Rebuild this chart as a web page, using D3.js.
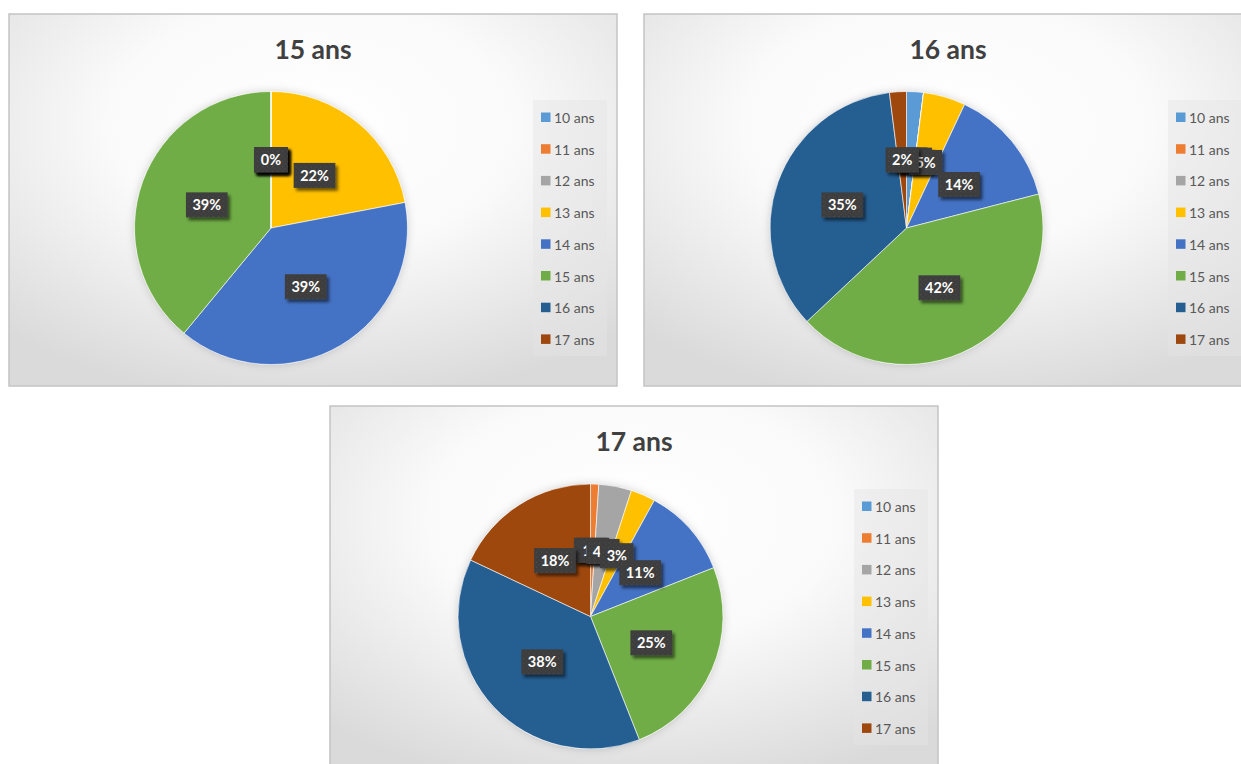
<!DOCTYPE html>
<html><head><meta charset="utf-8">
<script src="https://cdn.jsdelivr.net/npm/d3@7/dist/d3.min.js"></script>
<style>html,body{margin:0;padding:0;background:#fff;overflow:hidden}</style>
</head><body>
<svg id="c" width="1241" height="764"></svg>
<script>
const categories = ["10 ans","11 ans","12 ans","13 ans","14 ans","15 ans","16 ans","17 ans"];
const titles = ["15 ans","16 ans","17 ans"];
const values15 = [0,0,0,22,39,39,0,0];
const values16 = [2,0,0,5,14,42,35,2];
const values17 = [0,1,4,3,11,25,38,18];
const colors = ["#5B9BD5","#ED7D31","#A5A5A5","#FFC000","#4472C4","#70AD47","#255E91","#9E480E"];

const svg = d3.select("#c");
const defs = svg.append("defs");
const rg = defs.append("radialGradient").attr("id","bg").attr("cx","50%").attr("cy","30%").attr("r","75%");
rg.append("stop").attr("offset","0%").attr("stop-color","#ffffff");
rg.append("stop").attr("offset","45%").attr("stop-color","#fafafa");
rg.append("stop").attr("offset","100%").attr("stop-color","#dadada");
const pat = defs.append("pattern").attr("id","tex").attr("width",5).attr("height",5).attr("patternUnits","userSpaceOnUse");
pat.append("rect").attr("width",5).attr("height",5).attr("fill","#3d3d3d");
pat.append("rect").attr("x",1).attr("y",1).attr("width",1.2).attr("height",1.2).attr("fill","#4e4e4e");
pat.append("rect").attr("x",3.5).attr("y",3.5).attr("width",1).attr("height",1).attr("fill","#474747");
const f = defs.append("filter").attr("id","sh").attr("x","-30%").attr("y","-30%").attr("width","170%").attr("height","180%");
f.append("feDropShadow").attr("dx",2.5).attr("dy",3).attr("stdDeviation",1.8).attr("flood-color","#000").attr("flood-opacity",0.55);
const f2 = defs.append("filter").attr("id","psh").attr("x","-20%").attr("y","-20%").attr("width","140%").attr("height","140%");
f2.append("feDropShadow").attr("dx",0).attr("dy",0).attr("stdDeviation",4).attr("flood-color","#000").attr("flood-opacity",0.18);

const panels = [
  {x:9, y:14, values:values15, cx:262, cy:214, r:136.5, ly:104},
  {x:644, y:14, values:values16, cx:262.5, cy:214, r:136.5, ly:104},
  {x:330, y:406, values:values17, cx:260.5, cy:210.5, r:132.5, ly:101}
];
const W = 608, H = 372;
const pie = d3.pie().sort(null).value(d => d);

panels.forEach((p, i) => {
  const g = svg.append("g").attr("transform", `translate(${p.x},${p.y})`);
  g.append("rect").attr("x",0).attr("y",0).attr("width",W).attr("height",H)
    .attr("fill","url(#bg)").attr("stroke","#c4c4c4").attr("stroke-width",1.5);
  g.append("text").attr("x",W/2).attr("y",45).attr("text-anchor","middle")
    .attr("font-family","Lato, 'Open Sans', sans-serif").attr("font-weight","bold")
    .attr("font-size",26.5).attr("fill","#404040").text(titles[i]);

  const total = d3.sum(p.values);
  const arcs = pie(p.values);
  const arc = d3.arc().innerRadius(0).outerRadius(p.r);
  const pg = g.append("g").attr("transform", `translate(${p.cx},${p.cy})`);
  pg.append("circle").attr("r",p.r).attr("fill","#fff").attr("filter","url(#psh)");
  pg.selectAll("path.s").data(arcs).join("path").attr("class","s")
    .attr("d", arc).attr("fill",(d,j)=>colors[j]).attr("stroke","#fff").attr("stroke-width",0.6);

  const lab = d3.arc().innerRadius(p.r*0.5).outerRadius(p.r*0.5);
  arcs.forEach((d, j) => {
    const [lx, ly] = lab.centroid(d);
    const txt = Math.round(d.value/total*100) + "%";
    const lg = pg.append("g").attr("transform", `translate(${lx},${ly})`);
    const t = lg.append("text").attr("text-anchor","middle").attr("dy","0.36em")
      .attr("font-family","Lato, 'Open Sans', sans-serif").attr("font-weight","bold")
      .attr("font-size",14.5).attr("fill","#fff").text(txt);
    const w = t.node().getComputedTextLength() + 13;
    lg.insert("rect","text").attr("x",-w/2).attr("y",-12.5).attr("width",w).attr("height",25)
      .attr("fill","url(#tex)").attr("filter","url(#sh)");
  });

  const leg = g.append("g");
  leg.append("rect").attr("x",524).attr("y",p.ly-18).attr("width",74).attr("height",256)
    .attr("fill","#e4e4e4").attr("opacity",0.45);
  categories.forEach((c, j) => {
    const y = p.ly + j*31.7;
    leg.append("rect").attr("x",532).attr("y",y-5.5).attr("width",9.5).attr("height",9.5).attr("fill",colors[j]);
    leg.append("text").attr("x",545).attr("y",y).attr("dy","0.36em")
      .attr("font-family","Lato, 'Open Sans', sans-serif").attr("font-size",14)
      .attr("fill","#595959").text(c);
  });
});
</script>
</body></html>
